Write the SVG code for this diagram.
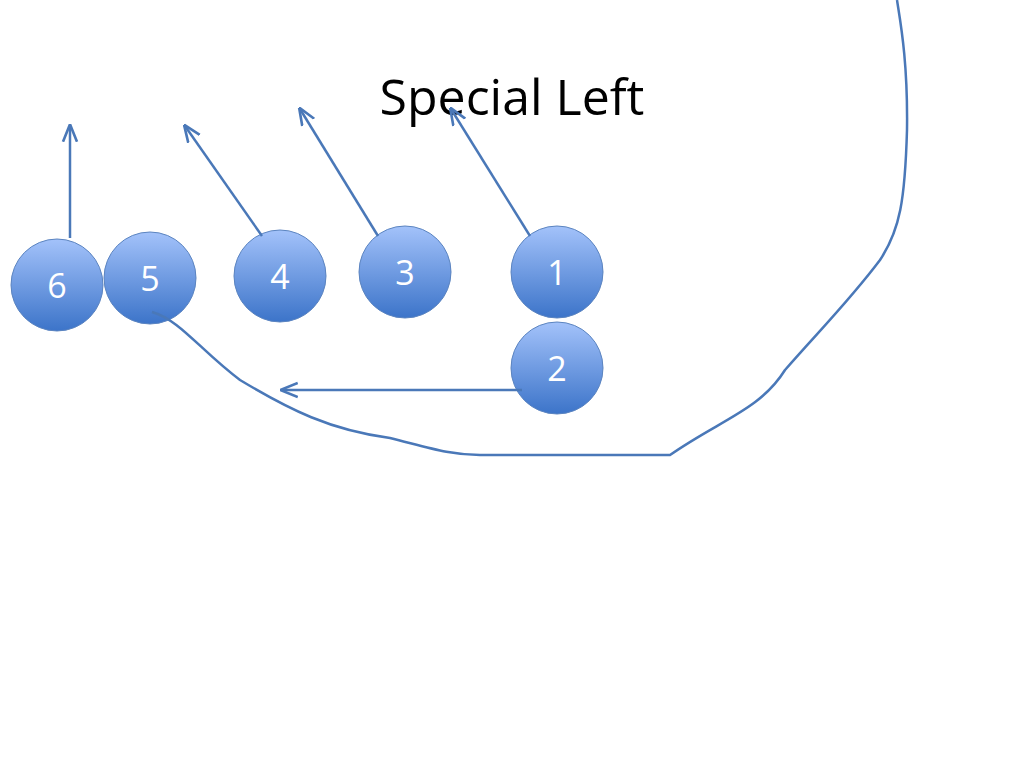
<svg xmlns="http://www.w3.org/2000/svg" width="1024" height="768" viewBox="0 0 1024 768">
<defs>
<linearGradient id="g" x1="0" y1="0" x2="0" y2="1">
<stop offset="0" stop-color="#a3c2fa"/>
<stop offset="1" stop-color="#3c74c9"/>
</linearGradient>
<marker id="a" viewBox="0 0 10 10" refX="9" refY="5" markerWidth="7" markerHeight="7" orient="auto">
<path d="M0,1 L10,5 L0,9" fill="none" stroke="#4a78b8" stroke-width="1.5"/>
</marker>
<style>
.n circle{fill:url(#g);stroke:#5b84c0;stroke-width:1}
.n text{font-family:"Open Sans","Liberation Sans",sans-serif;font-size:34px;fill:#fff;text-anchor:middle}
.c path{fill:none;stroke:#4a78b8;stroke-width:2.5}
</style>
</defs>
<rect width="1024" height="768" fill="#fff"/>
<text x="512" y="115" font-family="Open Sans, Liberation Sans, sans-serif" font-size="50" text-anchor="middle" fill="#000">Special Left</text>
<g id="n6" class="n"><circle cx="57" cy="285" r="46"/><text x="57" y="298">6</text></g>
<g id="n5" class="n"><circle cx="150" cy="278" r="46"/><text x="150" y="291">5</text></g>
<g id="n4" class="n"><circle cx="280" cy="276" r="46"/><text x="280" y="289">4</text></g>
<g id="n3" class="n"><circle cx="405" cy="272" r="46"/><text x="405" y="285">3</text></g>
<g id="n1" class="n"><circle cx="557" cy="272" r="46"/><text x="557" y="285">1</text></g>
<g id="n2" class="n"><circle cx="557" cy="368" r="46"/><text x="557" y="381">2</text></g>
<g id="connectors" class="c">
<path d="M70,238 L70,126" marker-end="url(#a)"/>
<path d="M262,236 L185,126" marker-end="url(#a)"/>
<path d="M378,236 L300,109" marker-end="url(#a)"/>
<path d="M530,236 L451,109" marker-end="url(#a)"/>
<path d="M522,390 L282,390" marker-end="url(#a)"/>
<path d="M152,312 C180,320 200,350 240,380 C290,410 330,430 390,438 C430,448 450,455 480,455 L670,455 C720,420 760,410 785,370 C820,330 850,300 880,260 C900,230 905,200 907,130 C908,60 900,20 897,0"/>
</g>
</svg>
